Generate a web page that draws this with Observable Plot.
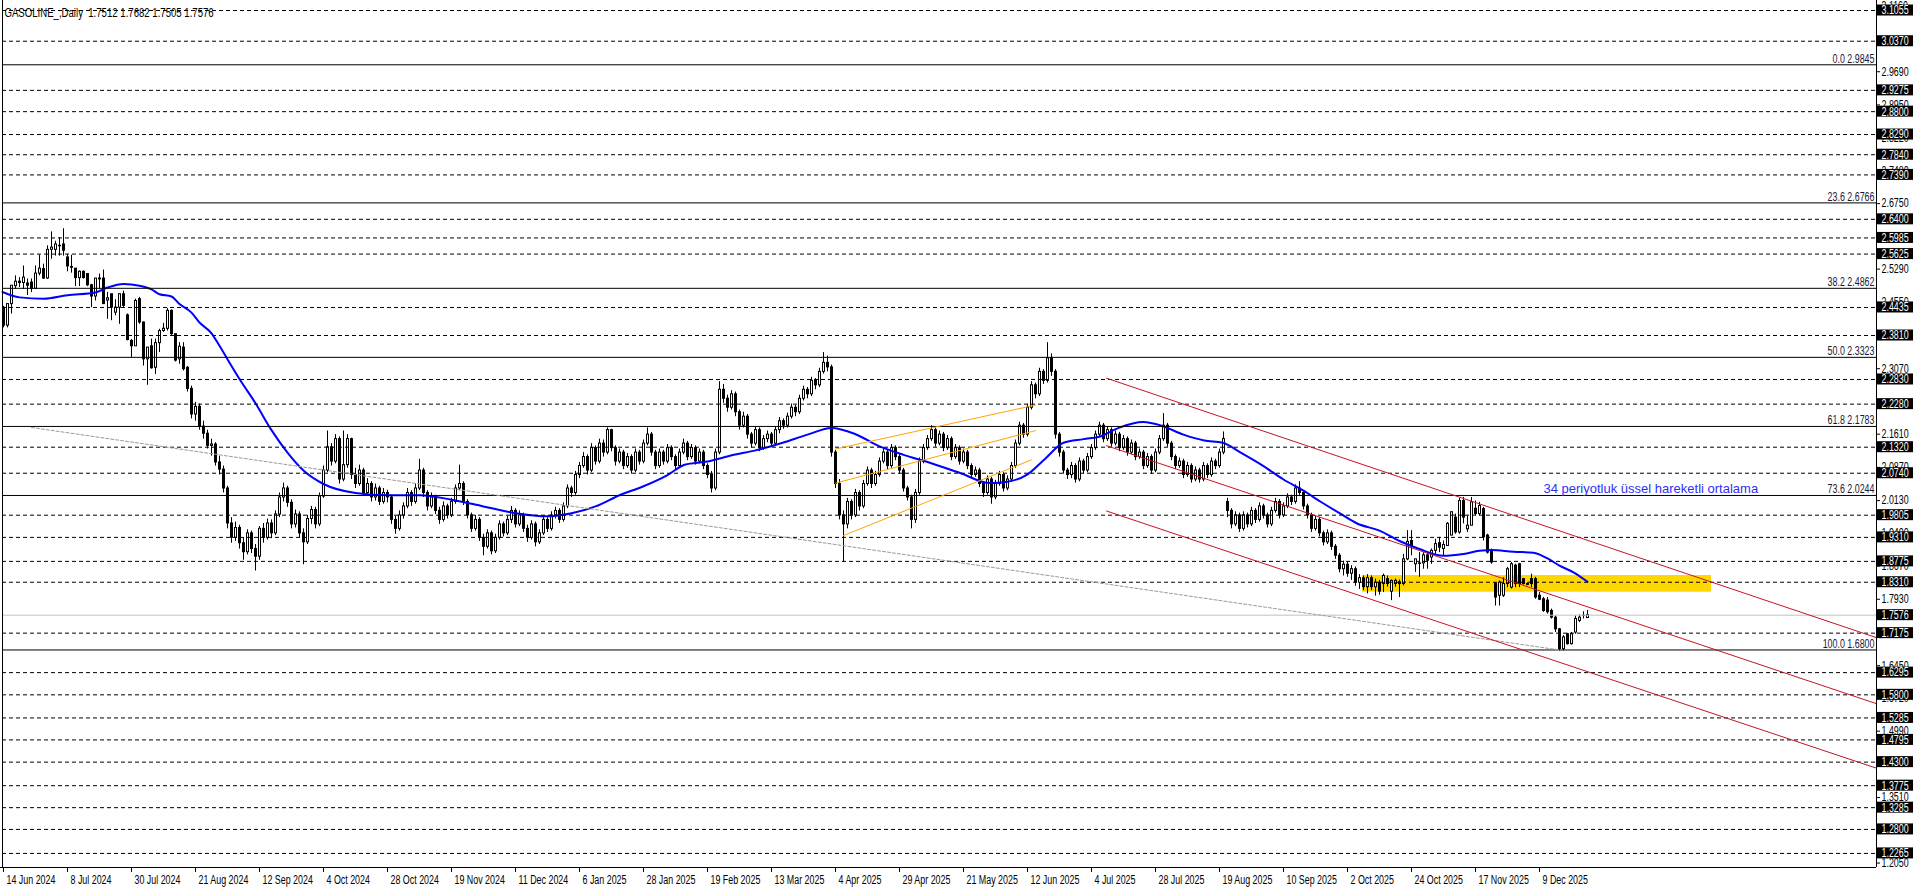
<!DOCTYPE html>
<html><head><meta charset="utf-8">
<script src="https://cdn.jsdelivr.net/npm/d3@7"></script>
<script src="https://cdn.jsdelivr.net/npm/@observablehq/plot@0.6"></script>
<style>html,body{margin:0;padding:0;background:#fff;overflow:hidden}</style>
</head><body><div id="chart"></div>
<script>
// ---------- data ----------
const titleText = "GASOLINE_,Daily  1.7512 1.7682 1.7505 1.7576";
const dateLabels = ["14 Jun 2024","8 Jul 2024","30 Jul 2024","21 Aug 2024","12 Sep 2024","4 Oct 2024","28 Oct 2024","19 Nov 2024","11 Dec 2024","6 Jan 2025","28 Jan 2025","19 Feb 2025","13 Mar 2025","4 Apr 2025","29 Apr 2025","21 May 2025","12 Jun 2025","4 Jul 2025","28 Jul 2025","19 Aug 2025","10 Sep 2025","2 Oct 2025","24 Oct 2025","17 Nov 2025","9 Dec 2025"];
const dateLabelBars = [0,16,32,48,64,80,96,112,128,144,160,176,192,208,224,240,256,272,288,304,320,336,352,368,384];

// daily candles [open, high, low, close], one row per bar (bar 0 = 14 Jun 2024)
const candlesA = [ // bars 0-45
[2.443,2.446,2.398,2.403],[2.403,2.451,2.398,2.451],[2.451,2.492,2.429,2.492],[2.491,2.514,2.484,2.501],[2.501,2.510,2.488,2.498],
[2.498,2.536,2.484,2.510],[2.497,2.507,2.470,2.492],[2.499,2.507,2.477,2.485],[2.485,2.536,2.484,2.519],[2.519,2.560,2.514,2.530],
[2.529,2.540,2.506,2.508],[2.508,2.581,2.506,2.572],[2.572,2.612,2.551,2.577],[2.572,2.591,2.558,2.584],[2.581,2.599,2.558,2.580],
[2.584,2.619,2.558,2.570],[2.555,2.562,2.523,2.535],[2.534,2.560,2.520,2.532],[2.530,2.530,2.490,2.509],[2.509,2.525,2.490,2.523],
[2.523,2.525,2.507,2.509],[2.518,2.518,2.490,2.493],[2.493,2.495,2.443,2.468],[2.468,2.508,2.458,2.508],[2.506,2.518,2.484,2.508],
[2.508,2.527,2.451,2.451],[2.459,2.477,2.417,2.464],[2.473,2.473,2.414,2.443],[2.432,2.461,2.425,2.443],[2.443,2.473,2.406,2.473],
[2.473,2.480,2.443,2.447],[2.426,2.429,2.369,2.371],[2.369,2.372,2.332,2.357],[2.357,2.462,2.357,2.458],[2.462,2.466,2.406,2.410],
[2.410,2.411,2.313,2.328],[2.328,2.354,2.270,2.354],[2.357,2.373,2.306,2.308],[2.309,2.373,2.294,2.364],[2.364,2.395,2.343,2.391],
[2.391,2.408,2.388,2.396],[2.396,2.441,2.391,2.436],[2.436,2.438,2.380,2.384],[2.384,2.384,2.322,2.325],[2.328,2.365,2.317,2.356],
[2.354,2.365,2.302,2.306]
];
const candlesB = [ // bars 46-125
[2.309,2.312,2.255,2.262],[2.262,2.268,2.195,2.205],[2.205,2.232,2.190,2.222],[2.222,2.228,2.170,2.178],[2.178,2.190,2.150,2.162],
[2.162,2.170,2.128,2.135],[2.135,2.150,2.112,2.138],[2.138,2.142,2.090,2.098],[2.098,2.112,2.070,2.082],[2.082,2.090,2.030,2.040],
[2.040,2.045,1.950,1.962],[1.962,1.975,1.918,1.930],[1.930,1.965,1.922,1.952],[1.952,1.958,1.905,1.918],[1.918,1.930,1.880,1.898],
[1.898,1.948,1.892,1.940],[1.940,1.945,1.895,1.905],[1.905,1.915,1.856,1.888],[1.888,1.955,1.880,1.950],[1.950,1.962,1.918,1.930],
[1.930,1.972,1.925,1.962],[1.962,1.970,1.928,1.940],[1.940,1.990,1.935,1.982],[1.982,2.030,1.975,2.020],[2.020,2.052,2.010,2.040],
[2.040,2.045,1.998,2.008],[2.008,2.015,1.950,1.960],[1.960,1.992,1.952,1.982],[1.982,1.988,1.930,1.940],[1.940,1.950,1.870,1.920],
[1.920,1.980,1.915,1.972],[1.972,2.000,1.960,1.992],[1.992,1.998,1.950,1.960],[1.960,2.030,1.955,2.022],[2.022,2.090,2.018,2.080],
[2.080,2.168,2.075,2.132],[2.132,2.140,2.090,2.100],[2.100,2.160,2.095,2.150],[2.150,2.155,2.050,2.060],[2.060,2.168,2.055,2.092],
[2.092,2.160,2.085,2.150],[2.150,2.152,2.060,2.070],[2.070,2.085,2.040,2.050],[2.050,2.092,2.045,2.080],[2.080,2.085,2.022,2.030],
[2.030,2.062,2.025,2.050],[2.050,2.055,2.010,2.020],[2.020,2.050,2.012,2.040],[2.040,2.045,2.002,2.010],[2.010,2.040,2.005,2.030],
[2.030,2.036,2.008,2.020],[2.020,2.025,1.960,1.970],[1.970,1.978,1.938,1.950],[1.950,1.990,1.945,1.980],[1.980,2.008,1.972,2.000],
[2.000,2.040,1.995,2.030],[2.030,2.035,2.000,2.010],[2.010,2.050,2.005,2.040],[2.040,2.105,2.035,2.080],[2.080,2.085,2.020,2.030],
[2.030,2.035,1.990,2.000],[2.000,2.030,1.995,2.020],[2.020,2.025,1.982,1.990],[1.990,1.998,1.960,1.970],[1.970,2.010,1.965,2.000],
[2.000,2.005,1.972,1.980],[1.980,2.018,1.975,2.010],[2.010,2.048,2.005,2.040],[2.040,2.092,2.035,2.050],[2.050,2.055,2.002,2.010],
[2.010,2.015,1.972,1.980],[1.980,1.985,1.942,1.950],[1.950,1.980,1.945,1.970],[1.970,1.975,1.922,1.930],[1.930,1.938,1.890,1.910],
[1.910,1.948,1.905,1.940],[1.940,1.945,1.892,1.900],[1.900,1.938,1.895,1.930],[1.930,1.968,1.925,1.960],[1.960,1.965,1.932,1.940]
];
const candlesC = [ // bars 126-205
[1.940,1.978,1.935,1.970],[1.970,2.000,1.962,1.990],[1.990,1.995,1.952,1.960],[1.960,1.990,1.955,1.980],[1.980,1.985,1.942,1.950],
[1.950,1.958,1.920,1.930],[1.930,1.968,1.925,1.960],[1.960,1.965,1.910,1.920],[1.920,1.948,1.915,1.940],[1.940,1.978,1.935,1.970],
[1.970,1.975,1.942,1.950],[1.950,1.988,1.945,1.980],[1.980,1.998,1.972,1.990],[1.990,1.995,1.962,1.970],[1.970,2.008,1.965,2.000],
[2.000,2.048,1.995,2.040],[2.040,2.045,2.020,2.030],[2.030,2.078,2.025,2.070],[2.070,2.098,2.062,2.090],[2.090,2.120,2.085,2.110],
[2.110,2.115,2.070,2.080],[2.080,2.140,2.075,2.130],[2.130,2.135,2.092,2.100],[2.100,2.150,2.095,2.140],[2.140,2.148,2.110,2.120],
[2.120,2.175,2.115,2.170],[2.170,2.172,2.122,2.130],[2.130,2.135,2.090,2.100],[2.100,2.128,2.095,2.120],[2.120,2.125,2.082,2.090],
[2.090,2.118,2.085,2.110],[2.110,2.115,2.072,2.080],[2.080,2.128,2.075,2.120],[2.120,2.125,2.092,2.100],[2.100,2.148,2.095,2.140],
[2.140,2.175,2.135,2.160],[2.160,2.165,2.112,2.120],[2.120,2.125,2.082,2.090],[2.090,2.128,2.085,2.120],[2.120,2.125,2.092,2.100],
[2.100,2.138,2.095,2.130],[2.130,2.135,2.102,2.110],[2.110,2.115,2.080,2.090],[2.090,2.128,2.085,2.120],[2.120,2.150,2.115,2.140],
[2.140,2.145,2.102,2.110],[2.110,2.138,2.105,2.130],[2.130,2.135,2.092,2.100],[2.100,2.128,2.095,2.120],[2.120,2.125,2.082,2.090],
[2.090,2.095,2.062,2.070],[2.070,2.078,2.030,2.040],[2.040,2.128,2.035,2.120],[2.120,2.278,2.115,2.260],[2.260,2.272,2.230,2.240],
[2.240,2.248,2.210,2.220],[2.220,2.258,2.215,2.250],[2.250,2.255,2.200,2.210],[2.210,2.215,2.170,2.180],[2.180,2.210,2.175,2.200],
[2.200,2.205,2.150,2.160],[2.160,2.165,2.130,2.140],[2.140,2.178,2.135,2.170],[2.170,2.175,2.122,2.130],[2.130,2.158,2.125,2.150],
[2.150,2.168,2.142,2.160],[2.160,2.165,2.132,2.140],[2.140,2.178,2.135,2.170],[2.170,2.198,2.162,2.190],[2.190,2.195,2.172,2.180],
[2.180,2.208,2.175,2.200],[2.200,2.228,2.195,2.220],[2.220,2.225,2.200,2.210],[2.210,2.248,2.205,2.240],[2.240,2.268,2.235,2.260],
[2.260,2.265,2.240,2.250],[2.250,2.288,2.245,2.280],[2.280,2.285,2.260,2.270],[2.270,2.308,2.265,2.300],[2.300,2.343,2.295,2.320]
];
const candlesD = [ // bars 206-285
[2.320,2.335,2.300,2.310],[2.310,2.315,2.110,2.120],[2.120,2.125,2.040,2.050],[2.050,2.060,1.970,1.980],[1.980,1.990,1.875,1.960],
[1.960,2.018,1.950,2.010],[2.010,2.015,1.970,1.980],[1.980,2.038,1.975,2.030],[2.030,2.035,1.990,2.000],[2.000,2.058,1.995,2.050],
[2.050,2.088,2.045,2.080],[2.080,2.085,2.040,2.050],[2.050,2.078,2.045,2.070],[2.070,2.108,2.065,2.100],[2.100,2.128,2.095,2.120],
[2.120,2.125,2.082,2.090],[2.090,2.138,2.085,2.130],[2.130,2.135,2.102,2.110],[2.110,2.115,2.072,2.080],[2.080,2.085,2.032,2.040],
[2.040,2.045,2.012,2.020],[2.020,2.025,1.950,1.970],[1.970,2.038,1.962,2.030],[2.030,2.108,2.025,2.100],[2.100,2.138,2.095,2.130],
[2.130,2.158,2.125,2.150],[2.150,2.180,2.145,2.170],[2.170,2.175,2.132,2.140],[2.140,2.168,2.135,2.160],[2.160,2.165,2.122,2.130],
[2.130,2.158,2.125,2.150],[2.150,2.155,2.102,2.110],[2.110,2.138,2.105,2.130],[2.130,2.135,2.092,2.100],[2.100,2.128,2.095,2.120],
[2.120,2.125,2.082,2.090],[2.090,2.095,2.062,2.070],[2.070,2.088,2.065,2.080],[2.080,2.085,2.042,2.050],[2.050,2.055,2.020,2.030],
[2.030,2.068,2.025,2.060],[2.060,2.065,2.005,2.020],[2.020,2.058,2.015,2.050],[2.050,2.078,2.045,2.070],[2.070,2.075,2.032,2.040],
[2.040,2.068,2.035,2.060],[2.060,2.098,2.055,2.090],[2.090,2.148,2.085,2.140],[2.140,2.188,2.135,2.180],[2.180,2.185,2.152,2.160],
[2.160,2.228,2.155,2.220],[2.220,2.278,2.215,2.270],[2.270,2.275,2.240,2.250],[2.250,2.308,2.245,2.300],[2.300,2.305,2.272,2.280],
[2.280,2.365,2.275,2.330],[2.330,2.340,2.290,2.300],[2.300,2.305,2.150,2.160],[2.160,2.165,2.110,2.120],[2.120,2.125,2.072,2.080],
[2.080,2.085,2.060,2.070],[2.070,2.098,2.062,2.090],[2.090,2.095,2.052,2.060],[2.060,2.108,2.055,2.100],[2.100,2.105,2.072,2.080],
[2.080,2.118,2.075,2.110],[2.110,2.138,2.105,2.130],[2.130,2.168,2.125,2.160],[2.160,2.188,2.155,2.180],[2.180,2.185,2.142,2.150],
[2.150,2.178,2.145,2.170],[2.170,2.175,2.132,2.140],[2.140,2.168,2.135,2.160],[2.160,2.165,2.122,2.130],[2.130,2.158,2.125,2.150],
[2.150,2.155,2.112,2.120],[2.120,2.148,2.115,2.140],[2.140,2.145,2.102,2.110],[2.110,2.128,2.105,2.120],[2.120,2.125,2.082,2.090]
];
const candlesE = [ // bars 286-344
[2.090,2.118,2.085,2.110],[2.110,2.115,2.072,2.080],[2.080,2.128,2.075,2.120],[2.120,2.158,2.115,2.150],[2.150,2.207,2.145,2.180],
[2.180,2.185,2.132,2.140],[2.140,2.145,2.102,2.110],[2.110,2.115,2.082,2.090],[2.090,2.108,2.085,2.100],[2.100,2.105,2.062,2.070],
[2.070,2.098,2.065,2.090],[2.090,2.095,2.052,2.060],[2.060,2.088,2.055,2.080],[2.080,2.085,2.052,2.060],[2.060,2.098,2.055,2.090],
[2.090,2.095,2.062,2.070],[2.070,2.108,2.065,2.100],[2.100,2.105,2.082,2.090],[2.090,2.128,2.085,2.120],[2.120,2.166,2.115,2.150],
[2.010,2.018,1.975,1.990],[1.990,1.995,1.950,1.960],[1.960,1.988,1.955,1.980],[1.980,1.985,1.942,1.950],[1.950,1.988,1.945,1.980],
[1.980,1.985,1.952,1.960],[1.960,1.998,1.955,1.990],[1.990,1.995,1.962,1.970],[1.970,2.008,1.965,2.000],[2.000,2.005,1.972,1.980],
[1.980,1.985,1.952,1.960],[1.960,1.998,1.955,1.990],[1.990,2.018,1.985,2.010],[2.010,2.015,1.972,1.980],[1.980,2.008,1.975,2.000],
[2.000,2.028,1.995,2.020],[2.020,2.025,2.002,2.010],[2.010,2.048,2.005,2.040],[2.040,2.055,2.022,2.030],[2.030,2.035,1.992,2.000],
[2.000,2.005,1.972,1.980],[1.980,1.985,1.942,1.950],[1.950,1.978,1.945,1.970],[1.970,1.975,1.932,1.940],[1.940,1.945,1.912,1.920],
[1.920,1.948,1.915,1.940],[1.940,1.945,1.902,1.910],[1.910,1.915,1.882,1.890],[1.890,1.895,1.852,1.860],[1.860,1.878,1.845,1.870],
[1.870,1.875,1.842,1.850],[1.850,1.868,1.835,1.860],[1.860,1.865,1.822,1.830],[1.830,1.848,1.815,1.840],[1.840,1.845,1.812,1.820],
[1.820,1.848,1.805,1.840],[1.840,1.845,1.812,1.820],[1.820,1.838,1.800,1.830],[1.830,1.835,1.802,1.810]
];
const candlesF = [ // bars 345-396
[1.827,1.849,1.808,1.845],[1.838,1.845,1.820,1.827],[1.810,1.836,1.790,1.834],[1.827,1.838,1.820,1.834],[1.831,1.836,1.797,1.827],
[1.827,1.893,1.823,1.882],[1.882,1.946,1.879,1.921],[1.923,1.946,1.890,1.912],[1.871,1.882,1.853,1.882],[1.873,1.897,1.842,1.872],
[1.873,1.897,1.860,1.891],[1.891,1.897,1.860,1.879],[1.886,1.905,1.871,1.901],[1.901,1.927,1.890,1.916],[1.918,1.931,1.897,1.908],
[1.905,1.923,1.890,1.914],[1.912,1.964,1.912,1.961],[1.935,1.988,1.935,1.987],[1.975,1.983,1.938,1.942],[1.942,2.018,1.938,2.012],
[2.012,2.020,1.961,1.975],[1.949,1.979,1.942,1.957],[1.957,2.020,1.957,2.009],[1.995,2.012,1.979,1.983],[1.983,2.009,1.979,2.001],
[1.994,1.998,1.923,1.931],[1.935,1.938,1.894,1.897],[1.901,1.905,1.871,1.875],[1.828,1.830,1.778,1.797],[1.801,1.834,1.778,1.830],
[1.801,1.841,1.797,1.827],[1.827,1.864,1.819,1.860],[1.819,1.875,1.816,1.871],[1.868,1.871,1.819,1.827],[1.871,1.873,1.819,1.827],
[1.838,1.838,1.825,1.827],[1.827,1.830,1.823,1.825],[1.838,1.849,1.819,1.827],[1.838,1.842,1.793,1.797],[1.801,1.808,1.790,1.792],
[1.793,1.797,1.764,1.767],[1.790,1.797,1.760,1.764],[1.767,1.771,1.749,1.752],[1.752,1.756,1.719,1.726],[1.726,1.728,1.678,1.682],
[1.682,1.712,1.678,1.708],[1.715,1.717,1.691,1.693],[1.693,1.719,1.691,1.715],[1.719,1.756,1.715,1.749],[1.745,1.758,1.741,1.752],
[1.756,1.765,1.749,1.756],[1.7512,1.7682,1.7505,1.7576]
];
// 34-period EMA as drawn on the chart: [bar, value]
const ema34 = [
[-0.25,2.478],[4,2.466],[10,2.463],[16,2.471],[23,2.477],[26,2.488],[30,2.496],[34,2.492],[37,2.484],[39,2.473],[42,2.468],[44,2.451],
[47,2.432],[49,2.410],[52,2.386],[54,2.358],[56,2.328],[59,2.284],[63,2.23],[67,2.17],[71,2.12],[75,2.08],[80,2.05],[88,2.03],[96,2.025],
[104,2.025],[112,2.015],[120,2.00],[128,1.985],[136,1.978],[142,1.985],[148,2.00],[154,2.025],[160,2.045],[166,2.07],[170.3,2.093],
[176,2.10],[182.6,2.115],[188,2.125],[194.8,2.142],[201,2.16],[207,2.175],[213,2.161],[219,2.134],[225,2.115],[231.4,2.098],[239,2.075],
[246.7,2.052],[251,2.055],[255.9,2.071],[260.5,2.107],[265,2.142],[270,2.15],[274.2,2.156],[278.8,2.175],[284.9,2.188],[289.5,2.180],
[295,2.16],[300.2,2.147],[304.8,2.142],[309.3,2.120],[315,2.09],[320,2.060],[325,2.035],[329.2,2.011],[334,1.985],[338.4,1.962],
[344,1.946],[349,1.923],[354,1.905],[360,1.890],[365,1.894],[369,1.901],[372,1.903],[377.5,1.899],[382.5,1.897],[386,1.884],[389,1.868],
[392.5,1.853],[396,1.832]
];
// horizontal dashed levels (black price boxes)
const dashedLevels = [3.1055,3.0370,2.9275,2.8800,2.8290,2.7840,2.7390,2.6400,2.5985,2.5625,2.4435,2.3810,2.2830,2.2280,2.1320,2.0740,1.9805,1.9310,1.8775,1.8310,1.7175,1.6295,1.5800,1.5285,1.4795,1.4300,1.3775,1.3285,1.2800,1.2265];
const currentPrice = 1.7576;
// Fibonacci retracement
const fibPct = ["0.0","23.6","38.2","50.0","61.8","73.6","100.0"];
const fibPrice = [2.9845,2.6766,2.4862,2.3323,2.1783,2.0244,1.6800];
// price axis ticks (some sit under the black level boxes, as in the original)
const axisTicks = [3.1160,2.9690,2.8950,2.8220,2.7480,2.6750,2.5290,2.4550,2.3070,2.1610,2.0870,2.0130,1.9400,1.8670,1.7930,1.6450,1.5720,1.4990,1.3510,1.2050];
// trend objects: [bar, price] endpoints
const grayTrend = [[7,2.176],[389,1.680]];
const redUpper = [[275.75,2.2858],[468.25,1.7074]];
const redMiddle = [[275.75,2.1354],[468.25,1.5603]];
const redLower = [[275.75,1.9898],[468.25,1.4165]];
const orangeUpper = [[208,2.128],[258,2.226]];
const orangeMiddle = [[208,2.052],[258,2.169]];
const orangeLower = [[210,1.935],[257,2.104]];
const zone = {b1: 339.75, b2: 427, p1: 1.8088, p2: 1.8460};
const emaNote = {bar: 385, price: 2.0398, text: "34 periyotluk üssel hareketli ortalama"};

// ---------- build ----------
const xMin = -0.25, xMax = 468.25, yMin = 1.1951, yMax = 3.1278;
const candles = [...candlesA, ...candlesB, ...candlesC, ...candlesD, ...candlesE, ...candlesF]
  .map(([o, h, l, c], i) => ({i, o, h, l, c}));
const toPts = (arr, id) => arr.map(([i, p]) => ({i, p, id}));
const redLines = [...toPts(redUpper, "u"), ...toPts(redMiddle, "m"), ...toPts(redLower, "l")];
const orangeLines = [...toPts(orangeUpper, "u"), ...toPts(orangeMiddle, "m"), ...toPts(orangeLower, "l")];
const fibs = fibPrice.map((p, k) => ({p, label: `${fibPct[k]} ${p.toFixed(4)}`}));
const boxLevels = [...dashedLevels, currentPrice];
const FONT = "'Liberation Sans',Arial,sans-serif";

const chart = Plot.plot({
  width: 1916, height: 888,
  marginLeft: 2, marginRight: 40, marginTop: 0, marginBottom: 21,
  x: {type: "linear", domain: [xMin, xMax], axis: null},
  y: {type: "linear", domain: [yMin, yMax], axis: null},
  style: {background: "#fff", fontFamily: FONT, fontSize: "12px", overflow: "visible"},
  marks: [
    Plot.rect([zone], {x1: "b1", x2: "b2", y1: "p1", y2: "p2", fill: "#ffd700"}),
    // candles
    Plot.ruleX(candles, {x: "i", y1: "l", y2: "h", stroke: "#000", strokeWidth: 1}),
    Plot.rect(candles, {x1: d => d.i - 0.25, x2: d => d.i + 0.5, y1: "o", y2: "c", fill: "#000", insetTop: -0.5, insetBottom: -0.5}),
    Plot.rect(candles.filter(d => d.c > d.o), {x1: d => d.i - 0.25, x2: d => d.i + 0.5, y1: "o", y2: "c", fill: "#fff", insetLeft: 1, insetRight: 1, insetTop: 0.5, insetBottom: 0.5}),
    // EMA
    Plot.line(ema34, {x: d => d[0], y: d => d[1], stroke: "#0000ff", strokeWidth: 2, curve: "monotone-x"}),
    // horizontal objects
    Plot.ruleY(dashedLevels, {stroke: "#000", strokeWidth: 1, strokeDasharray: "4,3"}),
    Plot.ruleY(fibPrice, {stroke: "#000", strokeWidth: 1}),
    Plot.ruleY([currentPrice], {stroke: "#c0c0c0", strokeWidth: 1}),
    // trend lines
    Plot.line(grayTrend, {x: d => d[0], y: d => d[1], stroke: "#9a9a9a", strokeWidth: 1, strokeDasharray: "3,2"}),
    Plot.line(redLines, {x: "i", y: "p", z: "id", stroke: "#c8141e", strokeWidth: 1}),
    Plot.line(orangeLines, {x: "i", y: "p", z: "id", stroke: "#ffa500", strokeWidth: 1}),
    // texts
    Plot.text(fibs, {x: xMax, y: "p", text: "label", textAnchor: "end", dx: -2, dy: -6, fontSize: 12, fill: "#1a1a3a"}),
    Plot.text([emaNote], {x: "bar", y: "price", text: "text", textAnchor: "start", fontSize: 13, fill: "#2f2ff5"}),
    Plot.text([titleText], {frameAnchor: "top-left", text: d => d, textAnchor: "start", dx: 2, dy: 7.5, fontSize: 12, fill: "#000"}),
    // frame lines
    Plot.ruleX([xMin], {stroke: "#000"}),
    Plot.ruleX([xMax], {stroke: "#000"}),
    Plot.ruleY([yMin], {stroke: "#000", x1: xMin - 1, x2: xMax}),
    // price axis
    Plot.ruleY(axisTicks, {y: d => d, x1: xMax, x2: xMax + 1, stroke: "#000"}),
    Plot.text(axisTicks, {x: xMax, y: d => d, text: d => d.toFixed(4), textAnchor: "start", dx: 5, fontSize: 12, fill: "#000"}),
    Plot.rect(boxLevels, {x1: xMax, x2: xMax + 9.25, y1: d => d, y2: d => d, insetLeft: 1, insetTop: -5.5, insetBottom: -5.5, fill: "#000"}),
    Plot.text(boxLevels, {x: xMax, y: d => d, text: d => d.toFixed(4), textAnchor: "start", dx: 5, fontSize: 12, fill: "#fff"}),
    // time axis
    Plot.ruleX(dateLabelBars, {x: d => d, y1: yMin, y2: yMin - 0.011, stroke: "#000"}),
    Plot.text(dateLabelBars, {x: d => d, y: yMin, text: (d, k) => dateLabels[k], textAnchor: "start", dx: 3, dy: 13, fontSize: 12, fill: "#000"})
  ]
});
document.getElementById("chart").append(chart);
// condense the MT4-style small labels (no narrow face is installed)
chart.querySelectorAll("text").forEach(t => {
  const s = t.textContent || "";
  if (s.startsWith("34 ")) return;
  const k = s.startsWith("GASOLINE") ? 0.8 : 0.74;
  const w = t.getComputedTextLength();
  if (w > 0) { t.setAttribute("textLength", (w * k).toFixed(2)); t.setAttribute("lengthAdjust", "spacingAndGlyphs"); }
});
</script>
</body></html>
